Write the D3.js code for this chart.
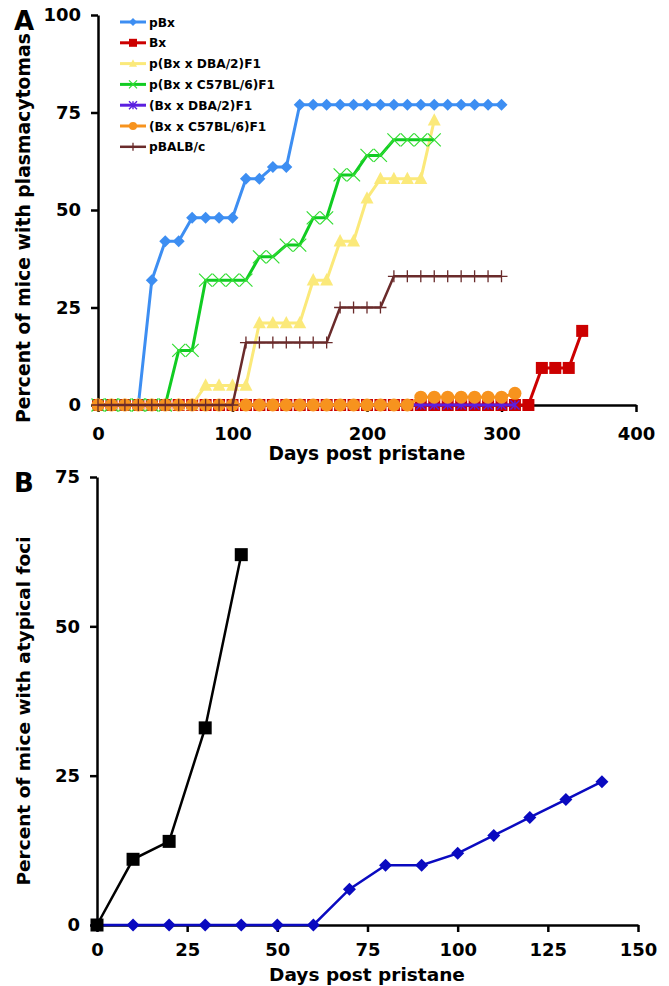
<!DOCTYPE html>
<html><head><meta charset="utf-8">
<script src="https://cdn.jsdelivr.net/npm/d3@7"></script>
<style>
body{margin:0;background:#fff;}
text{font-family:"DejaVu Sans",Verdana,sans-serif;font-weight:bold;}
</style></head>
<body><svg id="c" width="669" height="986"></svg>
<script>
// ---------- Panel A data ----------
const seriesNames = ["pBx","Bx","p(Bx x DBA/2)F1","p(Bx x C57BL/6)F1","(Bx x DBA/2)F1","(Bx x C57BL/6)F1","pBALB/c"];
const daysPBx   = [0,10,20,30,40,50,60,70,80,90,100,110,120,130,140,150,160,170,180,190,200,210,220,230,240,250,260,270,280,290,300];
const valsPBx   = [0,0,0,0,32,42,42,48,48,48,48,58,58,61,61,77,77,77,77,77,77,77,77,77,77,77,77,77,77,77,77];
const daysBx    = [0,10,20,30,40,50,60,70,80,90,100,110,120,130,140,150,160,170,180,190,200,210,220,230,240,250,260,270,280,290,300,310,320,330,340,350,360];
const valsBx    = [0,0,0,0,0,0,0,0,0,0,0,0,0,0,0,0,0,0,0,0,0,0,0,0,0,0,0,0,0,0,0,0,0,9.5,9.5,9.5,19];
const daysPDBA  = [0,10,20,30,40,50,60,70,80,90,100,110,120,130,140,150,160,170,180,190,200,210,220,230,240,250];
const valsPDBA  = [0,0,0,0,0,0,0,0,5,5,5,5,21,21,21,21,32,32,42,42,53,58,58,58,58,73];
const daysPC57  = [0,10,20,30,40,50,60,70,80,90,100,110,120,130,140,150,160,170,180,190,200,210,220,230,240,250];
const valsPC57  = [0,0,0,0,0,0,14,14,32,32,32,32,38,38,41,41,48,48,59,59,64,64,68,68,68,68];
const daysDBA   = [0,10,20,30,40,50,60,70,80,90,100,110,120,130,140,150,160,170,180,190,200,210,220,230,240,250,260,270,280,290,300,310];
const valsDBA   = [0,0,0,0,0,0,0,0,0,0,0,0,0,0,0,0,0,0,0,0,0,0,0,0,0,0,0,0,0,0,0,0];
const daysC57   = [0,10,20,30,40,50,60,70,80,90,100,110,120,130,140,150,160,170,180,190,200,210,220,230,240,250,260,270,280,290,300,310];
const valsC57   = [0,0,0,0,0,0,0,0,0,0,0,0,0,0,0,0,0,0,0,0,0,0,0,0,2,2,2,2,2,2,2,3];
const daysBALB  = [0,10,20,30,40,50,60,70,80,90,100,110,120,130,140,150,160,170,180,190,200,210,220,230,240,250,260,270,280,290,300];
const valsBALB  = [0,0,0,0,0,0,0,0,0,0,0,16,16,16,16,16,16,16,25,25,25,25,33,33,33,33,33,33,33,33,33];
const ticksAX = [0,100,200,300,400];
const ticksAY = [0,25,50,75,100];

// ---------- Panel B data ----------
const daysBBlack = [0,10,20,30,40];
const valsBBlack = [0,11,14,33,62];
const daysBBlue  = [0,10,20,30,40,50,60,70,80,90,100,110,120,130,140];
const valsBBlue  = [0,0,0,0,0,0,0,6,10,10,12,15,18,21,24];
const ticksBX = [0,25,50,75,100,125,150];
const ticksBY = [0,25,50,75];

const svg = d3.select("#c");
const FONT = '"DejaVu Sans",Verdana,sans-serif';

// ---------- Panel A ----------
const xA = d3.scaleLinear().domain([0,400]).range([98,636]);
const yA = d3.scaleLinear().domain([0,100]).range([405,15]);

function styleAxis(g){
  g.selectAll(".domain").attr("stroke","#000").attr("stroke-width",2.5);
  g.selectAll(".tick line").attr("stroke","#000").attr("stroke-width",2.5);
  g.selectAll(".tick text").attr("font-size",18).attr("fill","#000")
    .style("font-family",FONT).style("font-weight","bold");
}
const gAx = svg.append("g").attr("transform","translate(0,405)")
  .call(d3.axisBottom(xA).tickValues(ticksAX).tickSize(7).tickSizeOuter(0).tickPadding(15));
styleAxis(gAx);
const gAy = svg.append("g").attr("transform","translate(98,0)")
  .call(d3.axisLeft(yA).tickValues(ticksAY).tickSize(7).tickSizeOuter(0).tickPadding(10));
styleAxis(gAy);

svg.append("text").attr("x",367).attr("y",460).attr("text-anchor","middle").attr("font-size",18.6).text("Days post pristane");
svg.append("text").attr("transform","translate(30,228) rotate(-90)").attr("text-anchor","middle").attr("font-size",18.8).text("Percent of mice with plasmacytomas");
svg.append("text").attr("x",14).attr("y",30).attr("font-size",26).text("A");

function marker(g, type, color, size){
  const s = size/2;
  if(type==="diamond"){ g.append("path").attr("d",`M0,${-s}L${s},0L0,${s}L${-s},0Z`).attr("fill",color); }
  else if(type==="square"){ g.append("rect").attr("x",-s).attr("y",-s).attr("width",size).attr("height",size).attr("fill",color); }
  else if(type==="triangle"){ g.append("path").attr("d",`M0,${-s*1.1}L${s},${s*0.8}L${-s},${s*0.8}Z`).attr("fill",color); }
  else if(type==="circle"){ g.append("circle").attr("r",s).attr("fill",color); }
  else if(type==="x"){ g.append("path").attr("d",`M${-s},${-s}L${s},${s}M${-s},${s}L${s},${-s}`).attr("stroke",color).attr("stroke-width",1.2).attr("fill","none"); }
  else if(type==="asterisk"){ g.append("path").attr("d",`M${-s},${-s}L${s},${s}M${-s},${s}L${s},${-s}M0,${-s}L0,${s}`).attr("stroke",color).attr("stroke-width",1.4).attr("fill","none"); }
  else if(type==="plus"){ g.append("path").attr("d",`M${-s},0L${s},0M0,${-s}L0,${s}`).attr("stroke",color).attr("stroke-width",1.3).attr("fill","none"); }
}

const seriesA = [
  {days:daysPBx, vals:valsPBx, color:"#3d8ef2", mcolor:"#3d8ef2", type:"diamond", size:12, lw:3},
  {days:daysBx, vals:valsBx, color:"#cc0000", mcolor:"#cc0000", type:"square", size:12, lw:3},
  {days:daysPDBA, vals:valsPDBA, color:"#fbe97a", mcolor:"#fbe97a", type:"triangle", size:13, lw:3},
  {days:daysPC57, vals:valsPC57, color:"#11cc22", mcolor:"#33dd33", type:"x", size:13, lw:3},
  {days:daysDBA, vals:valsDBA, color:"#5b1fe0", mcolor:"#5b1fe0", type:"asterisk", size:9, lw:3},
  {days:daysC57, vals:valsC57, color:"#f7931e", mcolor:"#f7931e", type:"circle", size:13, lw:3},
  {days:daysBALB, vals:valsBALB, color:"#6a2b2b", mcolor:"#6a2b2b", type:"plus", size:12, lw:2.5}
];

const line = (x,y)=>d3.line().x(d=>x(d[0])).y(d=>y(d[1]));
seriesA.forEach(s=>{
  const pts = s.days.map((d,i)=>[d,s.vals[i]]);
  svg.append("path").datum(pts).attr("d",line(xA,yA)).attr("fill","none").attr("stroke",s.color).attr("stroke-width",s.lw).attr("stroke-linejoin","round");
  pts.forEach(p=>{ marker(svg.append("g").attr("transform",`translate(${xA(p[0])},${yA(p[1])})`), s.type, s.mcolor, s.size); });
});

// legend
seriesA.forEach((s,i)=>{
  const yy = 22 + i*20.8;
  svg.append("line").attr("x1",120).attr("x2",146).attr("y1",yy).attr("y2",yy).attr("stroke",s.color).attr("stroke-width",s.lw);
  marker(svg.append("g").attr("transform",`translate(133,${yy})`), s.type, s.mcolor, 8);
  svg.append("text").attr("x",149).attr("y",yy+4.5).attr("font-size",12.2).text(seriesNames[i]);
});

// ---------- Panel B ----------
const xB = d3.scaleLinear().domain([0,150]).range([97,638]);
const yB = d3.scaleLinear().domain([0,75]).range([925,477]);
const gBx = svg.append("g").attr("transform","translate(0,925)")
  .call(d3.axisBottom(xB).tickValues(ticksBX).tickSize(7).tickSizeOuter(0).tickPadding(11));
styleAxis(gBx);
const gBy = svg.append("g").attr("transform","translate(97,0)")
  .call(d3.axisLeft(yB).tickValues(ticksBY).tickSize(7).tickSizeOuter(0).tickPadding(10));
styleAxis(gBy);
svg.append("text").attr("x",367).attr("y",981).attr("text-anchor","middle").attr("font-size",18.5).text("Days post pristane");
svg.append("text").attr("transform","translate(30,711) rotate(-90)").attr("text-anchor","middle").attr("font-size",18.5).text("Percent of mice with atypical foci");
svg.append("text").attr("x",14).attr("y",492).attr("font-size",26).text("B");

const seriesB = [
  {days:daysBBlue, vals:valsBBlue, color:"#0a0ac0", type:"diamond", size:13},
  {days:daysBBlack, vals:valsBBlack, color:"#000000", type:"square", size:13}
];
seriesB.forEach(s=>{
  const pts = s.days.map((d,i)=>[d,s.vals[i]]);
  svg.append("path").datum(pts).attr("d",line(xB,yB)).attr("fill","none").attr("stroke",s.color).attr("stroke-width",2.5);
  pts.forEach(p=>{ marker(svg.append("g").attr("transform",`translate(${xB(p[0])},${yB(p[1])})`), s.type, s.color, s.size); });
});
</script></body></html>
